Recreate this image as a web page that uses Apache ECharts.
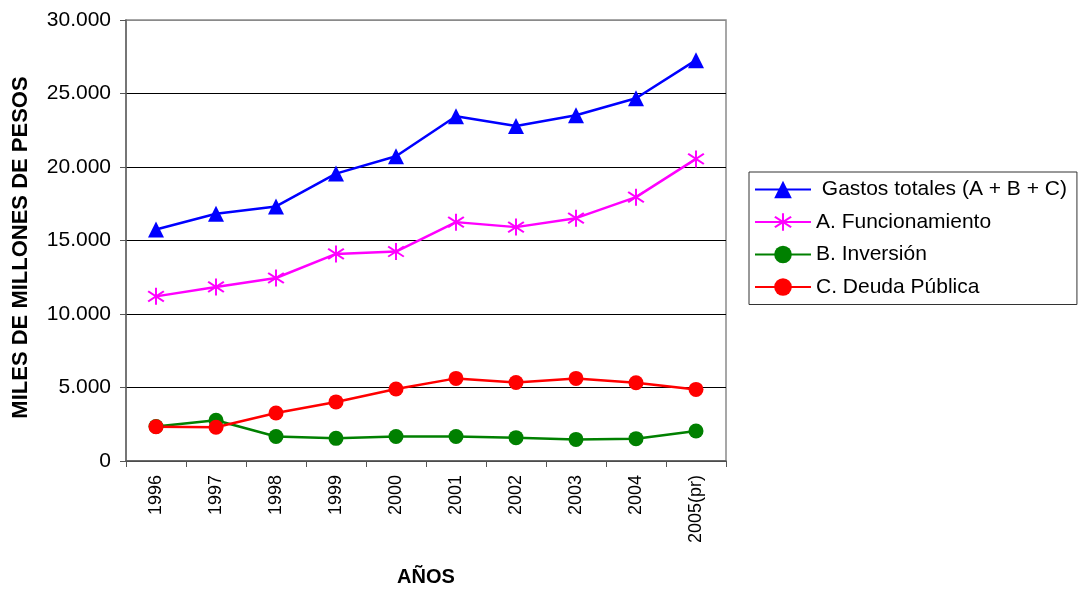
<!DOCTYPE html>
<html>
<head>
<meta charset="utf-8">
<script src="https://cdn.jsdelivr.net/npm/echarts@6/dist/echarts.min.js"></script>
<style>html,body{margin:0;padding:0;background:#fff}#c{width:1079px;height:589px}</style>
</head>
<body>
<div id="c"></div>
<script>
var years = ['1996','1997','1998','1999','2000','2001','2002','2003','2004','2005(pr)'];
var gastosTotales = [15750, 16820, 17320, 19550, 20730, 23450, 22790, 23520, 24680, 27270];
var funcionamiento = [11200, 11840, 12450, 14090, 14250, 16250, 15910, 16520, 17950, 20550];
var inversion = [2350, 2770, 1670, 1540, 1670, 1670, 1590, 1470, 1520, 2040];
var deudaPublica = [2330, 2300, 3270, 4020, 4900, 5620, 5340, 5620, 5320, 4870];
var seriesNames = ['Gastos totales (A + B + C)', 'A. Funcionamiento', 'B. Inversión', 'C. Deuda Pública'];

var asterisk = 'path://M9,0L11,0L11,20L9,20Z M2.66,3.12L18.66,15.12L17.34,16.88L1.34,4.88Z M1.34,15.12L17.34,3.12L18.66,4.88L2.66,16.88Z';
var font = 'Arial, "Liberation Sans", sans-serif';
function fmt(v){ return String(v).replace(/\B(?=(\d{3})+(?!\d))/g, '.'); }

var chart = echarts.init(document.getElementById('c'), null, {renderer:'canvas'});
chart.setOption({
  animation: false,
  backgroundColor: '#fff',
  textStyle: {fontFamily: font},
  grid: {left:126, right:353, top:20, bottom:128, show:true, borderColor:'#8a8a8a', borderWidth:1.5,
         containLabel:false, outerBoundsMode:'none'},
  legend: {
    orient:'vertical', left:749, top:172,
    backgroundColor:'#fff', borderColor:'#333', borderWidth:1,
    padding:[7, 10, 7, 5], itemWidth:56, itemHeight:22, itemGap:11.5,
    textStyle:{fontSize:21, color:'#000', lineHeight:21, fontFamily:font},
    formatter: function(n){ return n === seriesNames[0] ? ' ' + n : n; },
    data: seriesNames
  },
  xAxis: {
    type:'category', data: years, boundaryGap:true,
    name:'AÑOS', nameLocation:'middle', nameGap:106,
    nameTextStyle:{fontSize:20, fontWeight:'bold', color:'#000', fontFamily:font},
    axisLine:{lineStyle:{color:'#555', width:1.5}},
    axisTick:{show:true, inside:false, length:6, lineStyle:{color:'#555'}},
    axisLabel:{rotate:90, fontSize:18, color:'#000', margin:14, fontFamily:font}
  },
  yAxis: {
    type:'value', min:0, max:30000, interval:5000,
    name:'MILES DE MILLONES DE PESOS', nameLocation:'middle', nameGap:94,
    nameTextStyle:{fontSize:22, fontWeight:'bold', color:'#000', fontFamily:font, padding:[0,14,0,0]},
    axisLine:{show:true, lineStyle:{color:'#666', width:1.5}},
    axisTick:{show:true, inside:false, length:6, lineStyle:{color:'#555'}},
    axisLabel:{fontSize:21, color:'#000', margin:15, formatter: fmt, fontFamily:font},
    splitLine:{show:true, lineStyle:{color:['#333','#000','#000','#000','#000','#000','#8a8a8a'], width:1}}
  },
  series: [
    {name:seriesNames[0], type:'line', data:gastosTotales, symbol:'triangle', symbolSize:16,
     lineStyle:{color:'#0000FF', width:2.5}, itemStyle:{color:'#0000FF'}},
    {name:seriesNames[1], type:'line', data:funcionamiento, symbol:asterisk, symbolSize:17,
     lineStyle:{color:'#FF00FF', width:2.5}, itemStyle:{color:'#FF00FF'}},
    {name:seriesNames[2], type:'line', data:inversion, symbol:'circle', symbolSize:15,
     lineStyle:{color:'#008000', width:2.5}, itemStyle:{color:'#008000'}},
    {name:seriesNames[3], type:'line', data:deudaPublica, symbol:'circle', symbolSize:15,
     lineStyle:{color:'#FF0000', width:2.5}, itemStyle:{color:'#FF0000'}}
  ]
});
</script>
</body>
</html>
